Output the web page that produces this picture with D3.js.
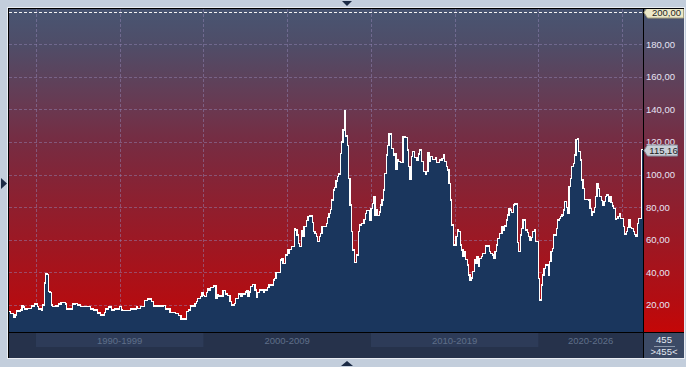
<!DOCTYPE html>
<html>
<head>
<meta charset="utf-8">
<script src="https://cdn.jsdelivr.net/npm/d3@7"></script>
<style>
html, body { margin:0; padding:0; background:#c3cedc; }
#chart { width:686px; height:367px; }
svg { display:block; font-family:"Liberation Sans", Arial, sans-serif; }
</style>
</head>
<body>
<div id="chart"></div>
<script>
// monthly closes, first value is May 1988
const firstMonth = new Date(1988, 4, 1);

const prices1980s = [15.8, 15.8, 14.8, 14.8, 12.6, 13.8, 16.3, 16.3,
	16.3, 16.9, 19.3, 18.7, 17.5, 17.5, 18.0, 18.0, 18.0, 19.3, 19.3, 20.5];

const prices1990s = [
	20.5, 18.9, 17.5, 17.5, 16.9, 20.0, 33.4, 39.0, 38.5, 28.0, 27.5, 20.0,
	18.9, 18.9, 19.3, 19.3, 20.5, 20.5, 21.7, 21.7, 21.7, 20.5, 17.5, 17.5,
	17.5, 17.5, 20.5, 20.5, 21.0, 21.0, 20.0, 20.0, 18.9, 18.9, 18.9, 18.9,
	18.9, 18.9, 18.9, 17.5, 17.5, 16.9, 16.9, 16.9, 15.0, 15.0, 13.8, 13.8,
	13.8, 15.3, 17.5, 17.5, 18.7, 18.7, 16.9, 16.9, 17.5, 17.5, 17.5, 17.5,
	18.9, 16.9, 16.5, 16.5, 16.5, 16.5, 16.5, 16.5, 17.5, 17.5, 17.5, 17.5,
	18.9, 18.0, 18.0, 18.9, 18.9, 18.9, 22.6, 22.6, 23.6, 23.6, 23.6, 22.0,
	19.3, 19.3, 19.3, 19.3, 19.3, 19.3, 19.3, 19.7, 19.7, 17.5, 17.5, 17.5,
	15.3, 15.3, 15.3, 15.3, 14.5, 14.5, 13.3, 13.3, 11.3, 11.3, 11.3, 11.3,
	15.8, 16.9, 16.9, 19.3, 19.3, 19.3, 21.0, 22.0, 24.0, 24.0, 25.0, 27.5
];

const prices2000s = [
	26.0, 25.0, 27.5, 30.2, 29.1, 30.8, 30.8, 31.6, 31.6, 24.0, 26.5, 25.5,
	25.5, 25.5, 28.7, 28.7, 26.7, 25.7, 25.7, 22.0, 20.0, 20.0, 21.0, 24.0,
	24.0, 26.7, 26.7, 25.5, 26.7, 26.7, 27.9, 28.7, 25.5, 27.9, 31.2, 32.6,
	32.6, 29.1, 24.6, 27.5, 29.1, 29.1, 29.1, 27.9, 29.1, 29.1, 30.8, 32.2,
	32.2, 32.2, 35.3, 36.3, 39.8, 39.8, 39.8, 47.5, 48.6, 45.5, 45.5, 50.6,
	54.0, 51.6, 54.0, 55.7, 55.7, 67.0, 66.0, 62.9, 57.8, 55.7, 65.3, 62.3,
	68.0, 68.0, 71.7, 74.1, 74.5, 74.5, 70.4, 64.9, 63.9, 61.8, 58.8, 61.8,
	64.0, 68.0, 68.0, 68.0, 70.0, 73.7, 76.2, 78.6, 84.4, 90.5, 92.1, 96.0,
	99.0, 100.3, 113.0, 120.0, 127.3, 139.0, 123.6, 118.0, 97.7, 81.3, 65.0, 53.7,
	45.9, 45.9, 50.6, 64.9, 69.0, 70.0, 70.0, 72.5, 76.2, 77.8, 77.8, 72.0
];

const prices2010s = [
	79.0, 82.3, 86.4, 74.7, 78.2, 74.7, 77.0, 81.3, 84.4, 90.5, 100.7, 112.0,
	118.0, 124.8, 125.3, 116.0, 112.0, 113.0, 103.2, 109.3, 108.0, 107.2, 107.2, 123.2,
	123.0, 122.8, 115.0, 104.8, 97.0, 110.9, 114.0, 110.5, 110.5, 108.9, 112.6, 115.0,
	107.9, 107.9, 101.7, 100.3, 101.7, 113.4, 107.9, 110.9, 109.3, 109.3, 110.5, 107.2,
	107.2, 108.9, 108.9, 110.0, 112.0, 107.9, 105.0, 102.8, 94.6, 84.4, 69.0, 56.7,
	56.7, 61.8, 66.0, 64.9, 56.7, 53.7, 49.6, 52.6, 48.0, 44.5, 38.3, 35.3,
	36.5, 40.4, 47.5, 45.5, 49.6, 43.4, 48.6, 49.6, 51.6, 51.6, 56.1, 56.1,
	56.1, 52.6, 51.6, 50.6, 48.6, 52.6, 56.7, 60.9, 63.9, 63.9, 68.0, 66.0,
	68.4, 72.1, 75.2, 79.3, 78.2, 76.6, 81.3, 81.9, 81.9, 58.2, 52.6, 62.9,
	67.0, 72.1, 72.5, 66.0, 64.3, 62.0, 59.8, 61.5, 64.9, 66.0, 58.8, 58.8
];

const prices2020s = [
	36.3, 23.0, 32.2, 38.3, 42.5, 44.5, 44.5, 38.3, 46.5, 52.6, 54.7, 62.9,
	62.9, 67.0, 72.1, 73.0, 74.1, 75.2, 78.2, 83.3, 80.0, 76.2, 92.5, 97.7,
	104.8, 106.9, 112.0, 121.6, 122.2, 114.0, 108.9, 96.6, 91.5, 84.8, 84.8, 84.6,
	84.4, 79.3, 75.2, 77.0, 79.9, 86.4, 94.6, 91.5, 86.4, 84.0, 81.3, 83.3,
	86.4, 87.4, 83.3, 86.4, 83.0, 80.7, 79.3, 72.5, 73.1, 74.1, 75.8, 73.1,
	73.1, 68.0, 63.5, 65.0, 67.6, 72.5, 67.6, 67.0, 64.9, 63.0, 61.8, 70.0,
	73.1, 73.1, 115.16
];

const priceTicks = [20, 40, 60, 80, 100, 120, 140, 160, 180];
const priceMax = 200;
const decadeStarts = [1990, 2000, 2010, 2020];
const decadeLabels = ['1990-1999', '2000-2009', '2010-2019', '2020-2026'];

function PriceChart() {

	let _ticks = [];
	let _max = 200;
	let _decades = [];
	let _decadeLabels = [];
	const fmt = v => d3.format('.2f')(v).replace('.', ',');

	function exports(d) {

		const root = this;
		const width = 686;
		const height = 367;
		const plot = {l:9, t:9, r:643, b:332};

		const svg = d3.select(root).append('svg')
			.attr('width', width)
			.attr('height', height);

		const defs = svg.append('defs');
		const grad = defs.append('linearGradient')
			.attr('id', 'bg')
			.attr('gradientUnits', 'userSpaceOnUse')
			.attr('x1', 0).attr('y1', plot.t)
			.attr('x2', 0).attr('y2', plot.b);
		[[0, '#485572'], [0.11, '#4f4d68'], [0.31, '#6a3850'], [0.41, '#762c42'],
			[0.62, '#901e2d'], [0.9, '#b30d12'], [1, '#c40707']]
			.forEach(s => grad.append('stop').attr('offset', s[0]).attr('stop-color', s[1]));

		defs.append('clipPath').attr('id', 'plot-clip')
			.append('rect')
			.attr('x', plot.l).attr('y', plot.t)
			.attr('width', plot.r - plot.l).attr('height', plot.b - plot.t);

		// scales
		const end = d3.timeMonth.offset(d[d.length - 1].date, 1);
		const scaleX = d3.scaleTime().domain([d[0].date, end]).range([8, plot.r]);
		const scaleY = d3.scaleLinear().domain([0, _max]).range([337.5, 11.5]);

		// frame
		svg.append('rect')
			.attr('x', 7.5).attr('y', 7.5).attr('width', 677).attr('height', 351)
			.attr('fill', 'none').attr('stroke', '#e9edf3');
		svg.append('rect')
			.attr('x', 8).attr('y', 8).attr('width', 676).attr('height', 350)
			.attr('fill', '#000');
		svg.append('rect')
			.attr('x', plot.l).attr('y', plot.t).attr('width', 684 - plot.l).attr('height', plot.b - plot.t)
			.attr('fill', 'url(#bg)');

		// grid
		const grid = svg.append('g').attr('class', 'grid');
		grid.selectAll('.h')
			.data(_ticks)
			.enter().append('line')
			.attr('x1', plot.l).attr('x2', plot.r)
			.attr('y1', v => Math.round(scaleY(v)) + 0.5)
			.attr('y2', v => Math.round(scaleY(v)) + 0.5)
			.attr('stroke', '#9184b4').attr('stroke-opacity', 0.5)
			.attr('stroke-dasharray', '3,2');
		grid.selectAll('.v')
			.data(scaleX.ticks(d3.timeYear.every(5)))
			.enter().append('line')
			.attr('x1', t => Math.round(scaleX(t)) + 0.5)
			.attr('x2', t => Math.round(scaleX(t)) + 0.5)
			.attr('y1', plot.t).attr('y2', plot.b)
			.attr('stroke', '#9184b4').attr('stroke-opacity', 0.5)
			.attr('stroke-dasharray', '3,2');
		grid.append('line')
			.attr('x1', plot.l).attr('x2', plot.r)
			.attr('y1', Math.round(scaleY(_max)) + 0.5)
			.attr('y2', Math.round(scaleY(_max)) + 0.5)
			.attr('stroke', '#f2f2f2')
			.attr('stroke-dasharray', '3,2');

		// area + outline, last step runs to the right edge
		const steps = d.concat([{date: end, value: d[d.length - 1].value}]);
		const area = d3.area()
			.curve(d3.curveStepAfter)
			.x(p => scaleX(p.date))
			.y0(plot.b)
			.y1(p => scaleY(p.value));
		const line = d3.line()
			.curve(d3.curveStepAfter)
			.x(p => scaleX(p.date))
			.y(p => scaleY(p.value));

		const marks = svg.append('g').attr('clip-path', 'url(#plot-clip)');
		marks.append('path')
			.datum(steps)
			.attr('d', area)
			.attr('fill', '#1a365d');
		marks.append('path')
			.datum(steps)
			.attr('d', line)
			.attr('fill', 'none')
			.attr('stroke', '#fff')
			.attr('stroke-width', 1.2)
			.attr('shape-rendering', 'crispEdges');

		// separators
		svg.append('line')
			.attr('x1', plot.r + 0.5).attr('x2', plot.r + 0.5)
			.attr('y1', plot.t).attr('y2', 358)
			.attr('stroke', '#000');

		// right axis
		const axisY = d3.axisRight(scaleY)
			.tickValues(_ticks)
			.tickSize(0)
			.tickPadding(3)
			.tickFormat(fmt);
		const axisYNode = svg.append('g')
			.attr('class', 'axis axis-y')
			.attr('transform', `translate(${plot.r},0)`)
			.call(axisY);
		axisYNode.select('.domain').remove();
		axisYNode.selectAll('text')
			.attr('fill', '#e6e4f4')
			.style('font-size', '9.5px')
			.style('font-family', '"Liberation Sans", Arial, sans-serif');

		// tags
		function tag(v, x0, x1, fill, stroke) {
			const cy = Math.round(scaleY(v)) + 0.5;
			const g = svg.append('g');
			g.append('path')
				.attr('d', `M${plot.r + 1},${cy} L${x0},${cy - 5.5} L${x1},${cy - 5.5} L${x1},${cy + 5.5} L${x0},${cy + 5.5} Z`)
				.attr('fill', fill)
				.attr('stroke', stroke);
			g.append('text')
				.attr('x', (x0 + x1) / 2 + 1).attr('y', cy)
				.attr('dy', '0.35em')
				.attr('text-anchor', 'middle')
				.attr('fill', '#1e1e1e')
				.style('font-size', '9.5px')
				.text(fmt(v));
			return g;
		}
		svg.append('clipPath').attr('id', 'tag-clip')
			.append('rect').attr('x', plot.r).attr('y', plot.t).attr('width', 42).attr('height', 30);
		tag(_max, 647.5, 683.5, '#ece8c8', '#a8a27e').attr('clip-path', 'url(#tag-clip)');
		const last = d[d.length - 1].value;
		tag(last, 647.5, 677.5, '#c9ced6', '#858e9c');

		// bottom bar
		const bar = svg.append('g');
		bar.append('rect')
			.attr('x', plot.l).attr('y', plot.b + 1)
			.attr('width', plot.r - plot.l).attr('height', 358 - plot.b - 1)
			.attr('fill', '#26324b');
		const bands = _decades.map((y0, i) => ({
			start: new Date(y0, 0, 1),
			stop: i < _decades.length - 1 ? new Date(_decades[i + 1], 0, 1) : end,
			label: _decadeLabels[i],
			shade: i % 2 === 0
		}));
		bar.selectAll('.band')
			.data(bands.filter(b => b.shade))
			.enter().append('rect')
			.attr('x', b => scaleX(b.start))
			.attr('width', b => scaleX(b.stop) - scaleX(b.start))
			.attr('y', plot.b + 1).attr('height', 14)
			.attr('fill', '#2d3b58');
		bar.selectAll('.lbl')
			.data(bands)
			.enter().append('text')
			.attr('x', b => (scaleX(b.start) + scaleX(b.stop)) / 2)
			.attr('y', 341)
			.attr('dy', '0.35em')
			.attr('text-anchor', 'middle')
			.attr('fill', '#5f6f89')
			.style('font-size', '9.5px')
			.text(b => b.label);

		// count box
		const box = svg.append('g');
		box.append('rect')
			.attr('x', plot.r + 1).attr('y', plot.b + 1)
			.attr('width', 684 - plot.r - 1).attr('height', 358 - plot.b - 1)
			.attr('fill', '#3c4a65');
		box.append('text')
			.attr('x', 664).attr('y', 339.5).attr('dy', '0.35em')
			.attr('text-anchor', 'middle').attr('fill', '#e4e9f2')
			.style('font-size', '9.5px')
			.text(d.length);
		box.append('line')
			.attr('x1', 654).attr('x2', 675).attr('y1', 346.5).attr('y2', 346.5)
			.attr('stroke', '#8c97aa');
		box.append('text')
			.attr('x', 664).attr('y', 352).attr('dy', '0.35em')
			.attr('text-anchor', 'middle').attr('fill', '#e4e9f2')
			.style('font-size', '9.5px')
			.text(`>${d.length}<`);

		svg.append('line')
			.attr('x1', plot.l).attr('x2', 684)
			.attr('y1', plot.b + 0.5).attr('y2', plot.b + 0.5)
			.attr('stroke', '#000');

		// little arrows round the frame
		const arrows = [
			'M342,1 L352,1 L347,6 Z',
			'M341,366 L353,366 L347,361 Z',
			'M1,178 L1,189 L7,183.5 Z'
		];
		svg.selectAll('.arrow')
			.data(arrows)
			.enter().append('path')
			.attr('d', p => p)
			.attr('fill', '#1c2b45');
	}

	exports.ticks = function(_) {
		if (typeof _ === "undefined") return _ticks
		_ticks = _;
		return this
	}

	exports.max = function(_) {
		if (typeof _ === "undefined") return _max
		_max = _;
		return this
	}

	exports.decades = function(starts, labels) {
		if (typeof starts === "undefined") return _decades
		_decades = starts;
		_decadeLabels = labels;
		return this
	}

	return exports;
}

const prices = [].concat(prices1980s, prices1990s, prices2000s, prices2010s, prices2020s);
const series = prices.map((v, i) => ({date: d3.timeMonth.offset(firstMonth, i), value: v}));

const chart = PriceChart()
	.ticks(priceTicks)
	.max(priceMax)
	.decades(decadeStarts, decadeLabels);

d3.select('#chart')
	.datum(series)
	.each(chart);
</script>
</body>
</html>
